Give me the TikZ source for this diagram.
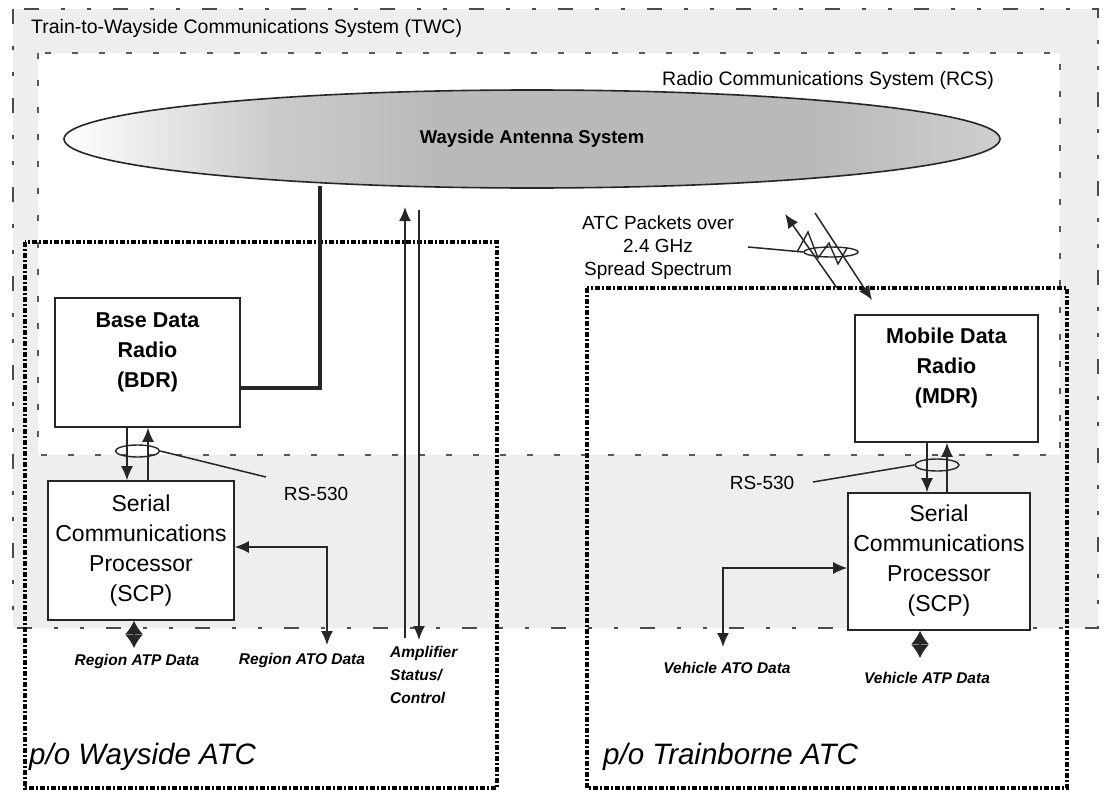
\documentclass[tikz,border=0pt]{standalone}
\usepackage{fontspec}
\setmainfont{Liberation Sans}
\usetikzlibrary{arrows.meta,calc,shapes.geometric}
\pgfdeclarehorizontalshading{antshade}{100bp}{color(0bp)=(white); color(25bp)=(white); color(36bp)=(white!60!gray); color(45bp)=(white!45!gray); color(65bp)=(white!45!gray); color(75bp)=(white!62!gray); color(100bp)=(white!62!gray)}
\begin{document}
\begin{tikzpicture}[x=1pt,y=-1pt,
  twc/.style={draw=black!70, line width=1.8pt, dash pattern=on 15pt off 22pt on 4pt off 22pt on 4pt off 22pt},
  rcs/.style={draw=black!65, line width=1.6pt, dash pattern=on 6pt off 21pt},
  atc/.style={draw=black, line width=3.2pt, dash pattern=on 5pt off 2pt on 2pt off 2pt},
  unit/.style={draw=black!85, line width=1.6pt, fill=white, inner sep=0pt},
  conn/.style={draw=black!85, line width=1.5pt},
  tipend/.style={-{Latex[length=14pt,width=12pt]}},
  tipboth/.style={{Latex[length=14pt,width=12pt]}-{Latex[length=14pt,width=12pt]}},
  dia/.style={{Latex[length=13.5pt,width=18pt]}-{Latex[length=13.5pt,width=18pt]}},
  ring/.style={ellipse, draw=black!85, line width=1.4pt, inner sep=0pt},
  boxtxt/.style={align=center, inner sep=0pt, font=\bfseries\fontsize{21.5}{30}\selectfont},
  scptxt/.style={align=center, inner sep=0pt, font=\fontsize{23}{30}\selectfont},
  datalab/.style={inner sep=0pt, font=\bfseries\itshape\fontsize{15.5}{23}\selectfont},
  biglab/.style={inner sep=0pt, anchor=west, font=\itshape\fontsize{29.5}{34}\selectfont},
  syslab/.style={inner sep=0pt, font=\fontsize{19.5}{23}\selectfont}
]
\useasboundingbox (0,0) rectangle (1110,792);
\fill[white] (0,0) rectangle (1110,792);

% system boundaries
\draw[twc, fill=gray!13] (13,9) rectangle (1098,628);
\draw[rcs, fill=white] (38,53) rectangle (1060,455);
\node[syslab, anchor=west] (twcl) at (31,28) {Train-to-Wayside Communications System (TWC)};
\node[syslab] (rcsl) at (828,80) {Radio Communications System (RCS)};

% ATC boundaries
\draw[atc] (25,242) rectangle (497,788);
\draw[atc] (587,288) rectangle (1067,788);
\node[biglab] (wayl) at (29,757) {p/o Wayside ATC};
\node[biglab] (trainl) at (603,757) {p/o Trainborne ATC};

% antenna
\node[ellipse, draw=black!85, line width=1.6pt, minimum width=936pt, minimum height=98pt,
      shading=antshade,
      font=\bfseries\fontsize{18.5}{22}\selectfont] (ant) at (532,139) {Wayside Antenna System};

% units
\node[unit, minimum width=185pt, minimum height=129pt] (bdr) at (147.5,362.5) {};
\node[boxtxt] (bdrt) at (147.5,352) {Base Data\\Radio\\(BDR)};
\node[unit, minimum width=186pt, minimum height=139pt] (scpl) at (141,550.5) {};
\node[scptxt] (scplt) at (141,550.5) {Serial\\Communications\\Processor\\(SCP)};
\node[unit, minimum width=183pt, minimum height=127pt] (mdr) at (946.5,378.5) {};
\node[boxtxt] (mdrt) at (946.5,367.5) {Mobile Data\\Radio\\(MDR)};
\node[unit, minimum width=182pt, minimum height=137pt] (scpr) at (939,561.5) {};
\node[scptxt] (scprt) at (939,560.5) {Serial\\Communications\\Processor\\(SCP)};

% coordinates
\coordinate (xl1) at (127,0);
\coordinate (xl2) at (148,0);
\coordinate (xr1) at (927,0);
\coordinate (xr2) at (947,0);
\coordinate (xdl) at (134,0);
\coordinate (xdr) at (920,0);
\coordinate (thk) at (320,186);
\coordinate (amp1b) at (405,638);
\coordinate (amp1t) at (405,207);
\coordinate (amp2t) at (419,210);
\coordinate (amp2b) at (419,640);
\coordinate (atol) at (327,645);
\coordinate (atov) at (723,647);
\coordinate (dl) at (134,648);
\coordinate (dr) at (920,658);

% BDR to antenna
\draw[black!85, line width=4.5pt] ($(bdr.east)+(0,25.5)$) -| (thk);

% amplifier status/control
\draw[conn, tipend] (amp1b) -- (amp1t);
\draw[conn, tipend] (amp2t) -- (amp2b);
\node[datalab, align=left, anchor=north west] (ampl) at (390,646) {Amplifier\\Status/\\Control};

% BDR <-> SCP
\draw[conn, tipend] (bdr.south -| xl1) -- (scpl.north -| xl1);
\draw[conn, tipend] (scpl.north -| xl2) -- (bdr.south -| xl2);
\node[ring, minimum width=44pt, minimum height=12pt] (rsl) at (137.5,451) {};
\node[inner sep=0pt, font=\fontsize{19}{22}\selectfont] (rsllab) at (316,494) {RS-530};
\coordinate (rslp) at (266,477);
\draw[conn] (rsl.east) -- (rslp);

% MDR <-> SCP
\draw[conn, tipend] (mdr.south -| xr1) -- (scpr.north -| xr1);
\draw[conn, tipend] (scpr.north -| xr2) -- (mdr.south -| xr2);
\node[ring, minimum width=44pt, minimum height=12pt] (rsr) at (937,465) {};
\node[inner sep=0pt, font=\fontsize{19}{22}\selectfont] (rsrlab) at (762,483) {RS-530};
\coordinate (rsrp) at (813,482);
\draw[conn] (rsr.west) -- (rsrp);

% wayside data
\draw[conn, tipboth] ($(scpl.east)+(0,-3.5)$) -| (atol);
\draw[conn, dia] (scpl.south -| xdl) -- (dl);
\node[datalab] (atpl) at (137,661) {Region ATP Data};
\node[datalab] (atol2) at (302,660) {Region ATO Data};

% vehicle data
\draw[conn, tipboth] ($(scpr.west)+(0,6.5)$) -| (atov);
\draw[conn, dia] (scpr.south -| xdr) -- (dr);
\node[datalab] (vatol) at (727,668) {Vehicle ATO Data};
\node[datalab] (vatpl) at (927,678) {Vehicle ATP Data};

% radio link
\node[align=center, inner sep=0pt, font=\fontsize{19}{23}\selectfont] (pkt) at (658,248) {ATC Packets over\\2.4 GHz\\Spread Spectrum};
\coordinate (wa1) at (837,288);
\coordinate (wa2) at (785,214);
\coordinate (wb1) at (815,213);
\coordinate (wb2) at (872,300);
\draw[conn, tipend] (wa1) -- (wa2);
\draw[conn, tipend] (wb1) -- (wb2);
\draw[conn, line width=1.4pt] (797,252) -- (808,232) -- (818,258) -- (829,243) -- (838,264) -- (847,248);
\node[ring, minimum width=54pt, minimum height=10pt] (wring) at (831,252) {};
\coordinate (pktp) at (748,247);
\draw[conn] (pktp) -- (wring.west);
\end{tikzpicture}
\end{document}
